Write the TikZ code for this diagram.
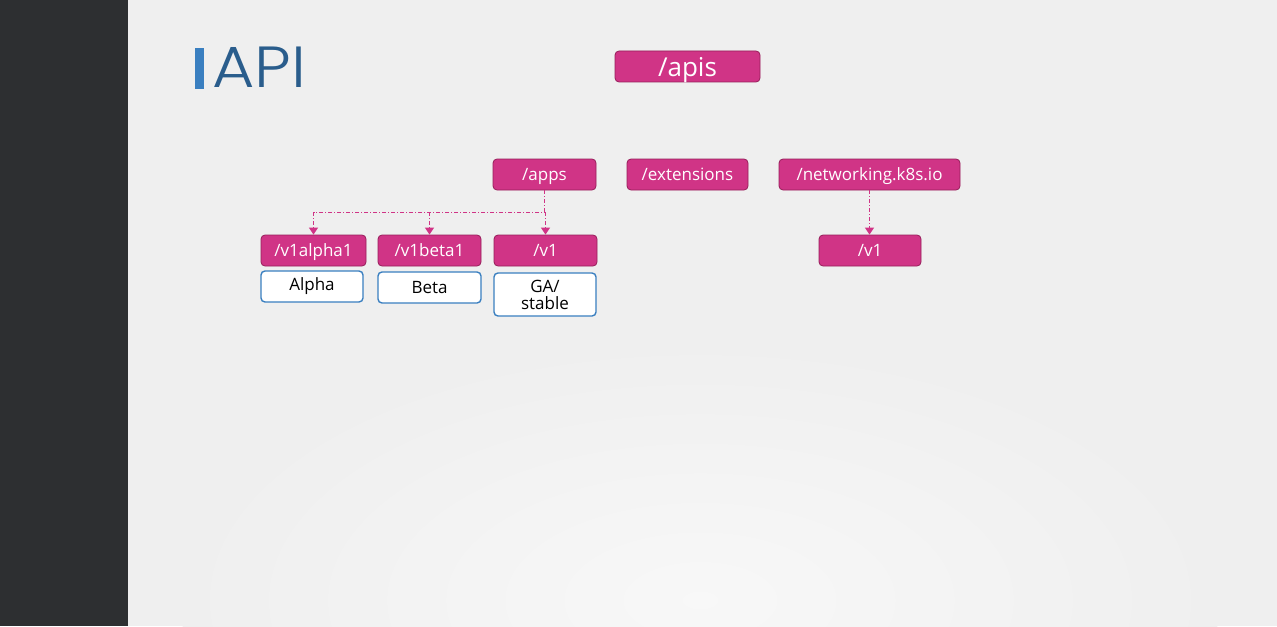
\documentclass[tikz,border=0pt]{standalone}
\usepackage{fontspec}
\setmainfont{Open Sans}
\newfontfamily\titlefont{Poppins}[UprightFont=* Light]
\usetikzlibrary{arrows.meta, positioning}
\definecolor{apimagenta}{RGB}{208,52,134}
\definecolor{apiborder}{RGB}{150,30,90}
\definecolor{apiblue}{RGB}{58,127,192}
\definecolor{apititle}{RGB}{42,93,140}
\definecolor{sidebar}{RGB}{45,47,49}
\definecolor{slidebg}{RGB}{239,239,239}

\begin{document}
\begin{tikzpicture}[x=0.5pt, y=-0.5pt,
  group/.style={draw=apiborder, fill=apimagenta, text=white, rounded corners=2pt, minimum height=15.5pt, inner sep=0pt, text depth=0pt, font=\fontsize{8.5}{10}\selectfont},
  level/.style={draw=apiblue, line width=0.7pt, fill=white, text=black, rounded corners=2pt, minimum height=15.5pt, inner sep=0pt, align=center, font=\fontsize{8.5}{8.5}\selectfont},
  link/.style={apimagenta, line width=0.5pt, dash pattern=on 2pt off 1pt on 0.5pt off 1pt},
  tip/.style={-{Triangle[width=4.5pt,length=3.5pt]}}]

  \useasboundingbox (0,0) rectangle (1277,626);
  \fill[slidebg] (0,0) rectangle (1277,626);
  \begin{scope}
    \clip (128,0) rectangle (1277,626);
    \shade[inner color=white!55!slidebg, outer color=slidebg] (700,600) ellipse [x radius=520, y radius=260];
  \end{scope}
  \fill[sidebar] (0,0) rectangle (128,626);

  % title
  \fill[apiblue] (195,48) rectangle (204,89);
  \node[anchor=base west, text=apititle, inner sep=0pt, font=\titlefont\fontsize{29}{30}\selectfont] (title) at (212,88) {\scalebox{1.12}[1]{API}};

  % groups
  \node[group, minimum width=72.5pt, font=\fontsize{13}{15}\selectfont] (apis) at (687.5,66.5) {/apis};
  \node[group, minimum width=51.5pt] (apps) at (544.5,174.5) {/apps};
  \node[group, minimum width=60.5pt] (ext) at (687.5,174.5) {/extensions};
  \node[group, minimum width=90.5pt] (net) at (869.5,174.5) {/networking.k8s.io};

  % versions
  \node[group, minimum width=52.5pt] (alpha) at (313.5,250.5) {/v1alpha1};
  \node[group, minimum width=51.5pt] (beta) at (429.5,250.5) {/v1beta1};
  \node[group, minimum width=51.5pt] (stable) at (545.5,250.5) {/v1};
  \node[group, minimum width=51pt] (netv1) at (870,250.5) {/v1};

  \node[level, minimum width=51pt] (alphalvl) at (312,286.5) {Alpha};
  \node[level, minimum width=51.5pt] (betalvl) at (429.5,287.5) {Beta};
  \node[level, minimum width=51pt, minimum height=21.5pt] (stablelvl) at (545,294.5) {GA/\\stable};

  % links
  \coordinate (rail) at (0,212);
  \draw[link] (apps.south) -- (apps.south |- rail) -- (alpha.north |- rail);
  \foreach \v in {alpha,beta,stable}
    \draw[link, tip] (\v.north |- rail) -- (\v.north);
  \draw[link, tip] (net.south) -- (net.south |- netv1.north);
\end{tikzpicture}
\end{document}
